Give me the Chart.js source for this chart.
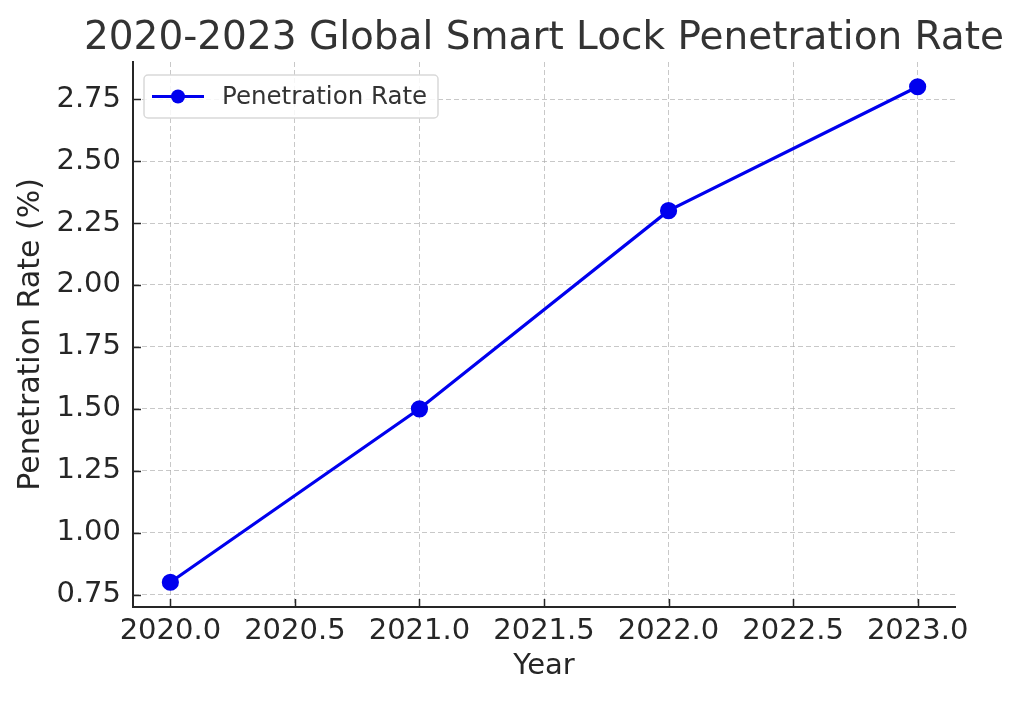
<!DOCTYPE html>
<html lang="en">
<head>
    <meta charset="UTF-8">
    <title>2020-2023 Global Smart Lock Penetration Rate</title>
    <script src="https://cdn.jsdelivr.net/npm/chart.js"></script>
    <style>
    body {
        margin: 0;
        padding: 0;
        background: #fff;
    }
    .wrap {
        width: 1024px;
        height: 701px;
    }
    </style>
</head>
<body>
    <div class="wrap">
        <canvas id="rate-chart" width="1024" height="701"></canvas>
    </div>

    <script>
        // data
        const years = [2020, 2021, 2022, 2023];
        const penetrationRate = [0.8, 1.5, 2.3, 2.8];
        const xTickValues = [2020.0, 2020.5, 2021.0, 2021.5, 2022.0, 2022.5, 2023.0];
        const yTickValues = [0.75, 1.00, 1.25, 1.50, 1.75, 2.00, 2.25, 2.50, 2.75];
        const chartTitle = '2020-2023 Global Smart Lock Penetration Rate';

        const FONT = "'DejaVu Sans', sans-serif";
        const TEXT = '#262626';
        const GRID = 'rgba(170,170,170,0.65)';

        // title centred over the plot area (matplotlib style), not over the canvas
        const plotTitle = {
            id: 'plotTitle',
            afterDraw(chart) {
                const ctx = chart.ctx;
                const a = chart.chartArea;
                ctx.save();
                ctx.fillStyle = '#333';
                ctx.font = '39px ' + FONT;
                ctx.textAlign = 'center';
                ctx.textBaseline = 'alphabetic';
                ctx.fillText(chartTitle, (a.left + a.right) / 2, a.top - 13);
                ctx.restore();
            }
        };

        // matplotlib-like inward tick marks
        const innerTicks = {
            id: 'innerTicks',
            afterDraw(chart) {
                const ctx = chart.ctx;
                const x = chart.scales.x, y = chart.scales.y;
                const a = chart.chartArea;
                ctx.save();
                ctx.strokeStyle = TEXT;
                ctx.lineWidth = 1.5;
                ctx.beginPath();
                xTickValues.forEach(v => {
                    const px = Math.round(x.getPixelForValue(v)) + 0.5;
                    ctx.moveTo(px, a.bottom);
                    ctx.lineTo(px, a.bottom - 8);
                });
                yTickValues.forEach(v => {
                    const py = Math.round(y.getPixelForValue(v)) + 0.5;
                    ctx.moveTo(a.left, py);
                    ctx.lineTo(a.left + 8, py);
                });
                ctx.stroke();
                ctx.restore();
            }
        };

        // legend box drawn inside the plot, top left
        const boxLegend = {
            id: 'boxLegend',
            afterDraw(chart) {
                const ctx = chart.ctx;
                const a = chart.chartArea;
                const ds = chart.data.datasets[0];
                const bx = a.left + 11, by = a.top + 13, bw = 294, bh = 43;
                ctx.save();
                ctx.fillStyle = 'rgba(255,255,255,0.85)';
                ctx.strokeStyle = '#d9d9d9';
                ctx.lineWidth = 1.5;
                ctx.beginPath();
                ctx.roundRect(bx, by, bw, bh, 4);
                ctx.fill();
                ctx.stroke();
                const cy = by + bh / 2;
                ctx.strokeStyle = ds.borderColor;
                ctx.lineWidth = 3;
                ctx.beginPath();
                ctx.moveTo(bx + 8, cy);
                ctx.lineTo(bx + 60, cy);
                ctx.stroke();
                ctx.fillStyle = ds.backgroundColor;
                ctx.beginPath();
                ctx.arc(bx + 34, cy, 7, 0, Math.PI * 2);
                ctx.fill();
                ctx.fillStyle = '#333';
                ctx.font = '24.5px ' + FONT;
                ctx.textBaseline = 'middle';
                ctx.fillText(ds.label, bx + 78, cy + 1);
                ctx.restore();
            }
        };

        const ctx = document.getElementById('rate-chart').getContext('2d');
        new Chart(ctx, {
            type: 'line',
            data: {
                datasets: [{
                    label: 'Penetration Rate',
                    data: years.map((yr, i) => ({ x: yr, y: penetrationRate[i] })),
                    borderColor: '#0000ee',
                    backgroundColor: '#0000ee',
                    borderWidth: 3.2,
                    pointRadius: 7,
                    pointHoverRadius: 7,
                    tension: 0,
                    fill: false
                }]
            },
            options: {
                responsive: false,
                animation: false,
                layout: { padding: { left: 0, right: 69, top: 62, bottom: 0 } },
                plugins: {
                    legend: { display: false },
                    tooltip: { enabled: false },
                    title: { display: false }
                },
                scales: {
                    x: {
                        type: 'linear',
                        min: 2019.85,
                        max: 2023.15,
                        afterBuildTicks: s => { s.ticks = xTickValues.map(v => ({ value: v })); },
                        afterFit: s => { s.height = 94; },
                        ticks: {
                            color: TEXT,
                            padding: 7,
                            font: { family: FONT, size: 29 },
                            callback: v => Number(v).toFixed(1)
                        },
                        grid: { color: GRID, lineWidth: 1, drawTicks: false },
                        border: { display: true, color: TEXT, width: 2, dash: [5, 3] },
                        title: {
                            display: true,
                            text: 'Year',
                            color: TEXT,
                            font: { family: FONT, size: 29 },
                            padding: { top: 0, bottom: 17 }
                        }
                    },
                    y: {
                        type: 'linear',
                        min: 0.7,
                        max: 2.9,
                        afterBuildTicks: s => { s.ticks = yTickValues.map(v => ({ value: v })); },
                        afterFit: s => { s.width = 133; },
                        ticks: {
                            color: TEXT,
                            padding: 12,
                            font: { family: FONT, size: 29 },
                            callback: v => Number(v).toFixed(2)
                        },
                        grid: { color: GRID, lineWidth: 1, drawTicks: false },
                        border: { display: true, color: TEXT, width: 2, dash: [5, 3] },
                        title: {
                            display: true,
                            text: 'Penetration Rate (%)',
                            color: TEXT,
                            font: { family: FONT, size: 30 },
                            padding: { top: 13, bottom: 0 }
                        }
                    }
                }
            },
            plugins: [plotTitle, innerTicks, boxLegend]
        });
    </script>
</body>
</html>
